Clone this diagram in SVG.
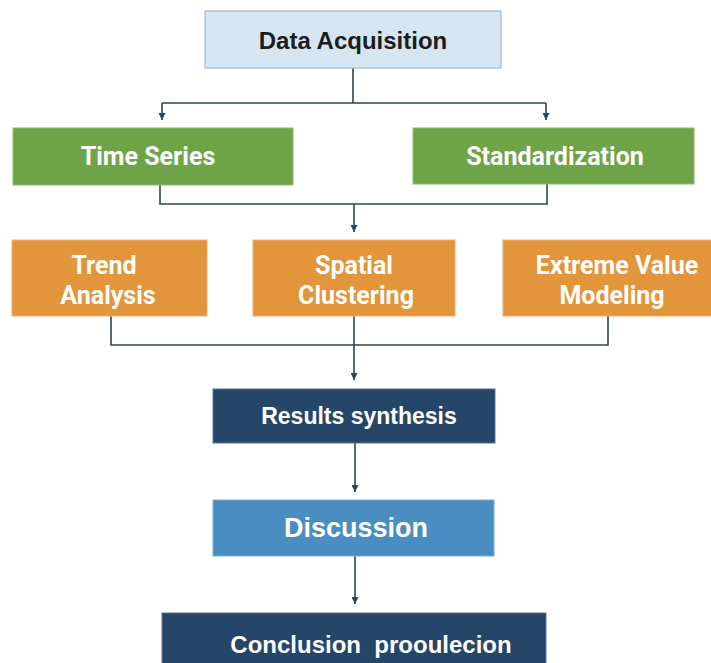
<svg xmlns="http://www.w3.org/2000/svg" width="711" height="663" viewBox="0 0 711 663">
<style>
.c{fill:none;stroke:#2f4257;stroke-width:1.6}
.n{font-family:"Roboto","Liberation Sans",sans-serif;font-weight:bold;fill:#fff;text-anchor:middle;font-size:25px}
.w{font-family:"Liberation Sans","Arial",sans-serif;font-weight:bold;fill:#fff;text-anchor:middle}
.green{fill:#6ea447;stroke:#8cbb6a;stroke-width:1}
.orange{fill:#e2953a;stroke:#eab070;stroke-width:1}
.navy{fill:#254569;stroke:#5a7896;stroke-width:1}
</style>
<defs>
<marker id="ah" viewBox="0 0 10 10" refX="10" refY="5" markerWidth="7" markerHeight="7" markerUnits="userSpaceOnUse" orient="auto">
<path d="M0,0 L10,5 L0,10 z" fill="#2f4257"/>
</marker>
</defs>
<rect width="711" height="663" fill="#fff"/>
<g id="connectors">
<path class="c" d="M353,68 V103 M162,103 H546"/>
<path class="c" d="M162,103 V120" marker-end="url(#ah)"/>
<path class="c" d="M546,103 V120" marker-end="url(#ah)"/>
<path class="c" d="M160,185 V204 H547 V184"/>
<path class="c" d="M354,204 V232" marker-end="url(#ah)"/>
<path class="c" d="M111,316 V345 H608 V316 M354,316 V345"/>
<path class="c" d="M354,345 V380" marker-end="url(#ah)"/>
<path class="c" d="M355,443 V492" marker-end="url(#ah)"/>
<path class="c" d="M355,556 V604" marker-end="url(#ah)"/>
</g>
<g id="data-acquisition">
<rect x="205" y="11" width="296" height="57" fill="#d5e5f1" stroke="#9dbbd6" stroke-width="1.2"/>
<text x="353" y="49" font-family="Liberation Sans, Arial, sans-serif" font-weight="bold" font-size="24" fill="#1c1c1c" text-anchor="middle">Data Acquisition</text>
</g>
<g id="time-series">
<rect class="green" x="13" y="128" width="280" height="57"/>
<text class="n" x="148" y="165">Time Series</text>
</g>
<g id="standardization">
<rect class="green" x="413" y="128" width="281" height="56"/>
<text class="n" x="555" y="165">Standardization</text>
</g>
<g id="trend-analysis">
<rect class="orange" x="12" y="240" width="195" height="76"/>
<text class="n" x="104" y="274">Trend</text>
<text class="n" x="108" y="304">Analysis</text>
</g>
<g id="spatial-clustering">
<rect class="orange" x="253" y="240" width="202" height="76"/>
<text class="n" x="354" y="274">Spatial</text>
<text class="n" x="356" y="304">Clustering</text>
</g>
<g id="extreme-value-modeling">
<rect class="orange" x="503" y="240" width="215" height="76"/>
<text class="n" x="617" y="274">Extreme Value</text>
<text class="n" x="612" y="304">Modeling</text>
</g>
<g id="results-synthesis">
<rect class="navy" x="213" y="389" width="282" height="54"/>
<text class="w" x="359" y="424" font-size="23">Results synthesis</text>
</g>
<g id="discussion">
<rect x="213" y="500" width="281" height="56" fill="#4a8dc0" stroke="#7aaed6" stroke-width="1"/>
<text class="w" x="356" y="537" font-size="27">Discussion</text>
</g>
<g id="conclusion">
<rect class="navy" x="162" y="613" width="384" height="60"/>
<text class="w" x="371" y="653" font-size="24" style="white-space:pre">Conclusion  prooulecion</text>
</g>
</svg>
